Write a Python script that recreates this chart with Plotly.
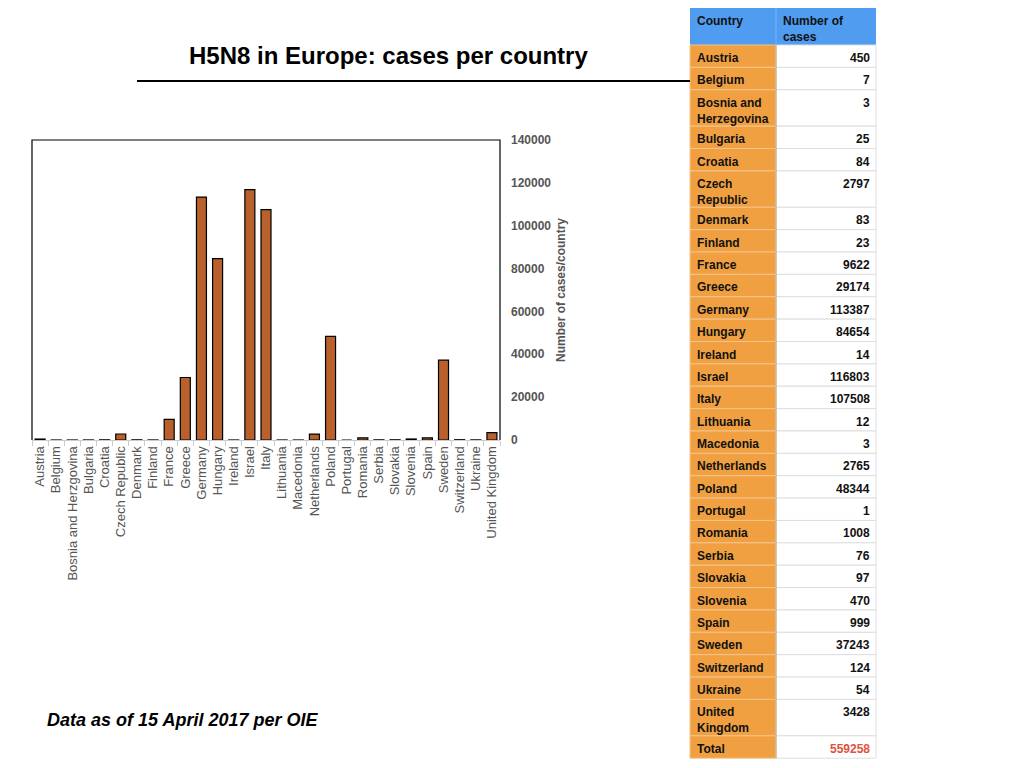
import plotly.graph_objects as go

countries = ["Austria", "Belgium", "Bosnia and Herzegovina", "Bulgaria", "Croatia",
             "Czech Republic", "Denmark", "Finland", "France", "Greece", "Germany",
             "Hungary", "Ireland", "Israel", "Italy", "Lithuania", "Macedonia",
             "Netherlands", "Poland", "Portugal", "Romania", "Serbia", "Slovakia",
             "Slovenia", "Spain", "Sweden", "Switzerland", "Ukraine", "United Kingdom"]
# the chart's axis labels (spelled as on the original chart)
bar_labels = ["Austria", "Belgium", "Bosnia and Herzgovina", "Bulgaria", "Croatia",
              "Czech Republic", "Denmark", "Finland", "France", "Greece", "Germany",
              "Hungary", "Ireland", "Israel", "Italy", "Lithuania", "Macedonia",
              "Netherlands", "Poland", "Portugal", "Romania", "Serbia", "Slovakia",
              "Slovenia", "Spain", "Sweden", "Switzerland", "Ukraine", "United Kingdom"]
cases = [450, 7, 3, 25, 84, 2797, 83, 23, 9622, 29174, 113387, 84654, 14, 116803,
         107508, 12, 3, 2765, 48344, 1, 1008, 76, 97, 470, 999, 37243, 124, 54, 3428]
total = 559258

# names that wrap onto two lines in the table
wrapped = {"Bosnia and Herzegovina": "Bosnia and<br>Herzegovina",
           "Czech Republic": "Czech<br>Republic",
           "United Kingdom": "United<br>Kingdom"}

bar_color = "#b8612c"
orange = "#f0a040"
blue = "#4f9cf0"
grid = "#dedede"

# page body has an 8px margin, so the figure is sized to fit the window
W, H, OFF = 1008, 752, 8


def px(sx):
    return (sx - OFF) / W


def py(sy):
    return 1 - (sy - OFF) / H


fig = go.Figure()

fig.add_trace(go.Bar(
    x=bar_labels, y=cases,
    marker=dict(color=bar_color, line=dict(color="black", width=1.2)),
    width=0.62,
    showlegend=False,
))

# ---- table drawn with shapes + annotations ----
x0, xmid, x1 = 690, 776, 876
head_top, head_bot = 8, 45
single_h, double_h = 22.37, 36.4
font_tbl = dict(family="Liberation Sans", size=12, color="#111")

shapes = []
annos = []
shapes.append(dict(type="rect", xref="paper", yref="paper",
                   x0=px(x0), x1=px(x1), y0=py(head_bot), y1=py(head_top),
                   fillcolor=blue, line=dict(width=0), layer="below"))
shapes.append(dict(type="line", xref="paper", yref="paper",
                   x0=px(xmid), x1=px(xmid), y0=py(head_bot), y1=py(head_top),
                   line=dict(color="#78b4f4", width=1)))
annos.append(dict(text="<b>Country</b>", x=px(x0 + 5), y=py(head_top + 4)))
annos.append(dict(text="<b>Number of<br>cases</b>", x=px(xmid + 5), y=py(head_top + 4)))

rows = [(wrapped.get(c, c), str(v), "#111") for c, v in zip(countries, cases)]
rows.append(("Total", str(total), "#e0523a"))

top = head_bot
for name, val, vcol in rows:
    h = double_h if "<br>" in name else single_h
    bot = top + h
    shapes.append(dict(type="rect", xref="paper", yref="paper",
                       x0=px(x0), x1=px(xmid), y0=py(bot), y1=py(top),
                       fillcolor=orange, line=dict(color="#f4c48c", width=1), layer="below"))
    shapes.append(dict(type="rect", xref="paper", yref="paper",
                       x0=px(xmid), x1=px(x1), y0=py(bot), y1=py(top),
                       fillcolor="white", line=dict(color=grid, width=1), layer="below"))
    annos.append(dict(text="<b>%s</b>" % name, x=px(x0 + 5), y=py(top + 4)))
    annos.append(dict(text="<b>%s</b>" % val, x=px(x1 - 4), y=py(top + 4),
                      xanchor="right", font=dict(family="Liberation Sans", size=12, color=vcol)))
    top = bot

# divider between the two columns
shapes.append(dict(type="line", xref="paper", yref="paper",
                   x0=px(xmid), x1=px(xmid), y0=py(top), y1=py(head_bot),
                   line=dict(color="#c8a070", width=1)))

for a in annos:
    a.setdefault("xanchor", "left")
    a.setdefault("font", font_tbl)
    a.update(xref="paper", yref="paper", yanchor="top", align="left", showarrow=False)
    if a["xanchor"] == "right":
        a["align"] = "right"

# box round the plot area: left, top and right in black
shapes.append(dict(type="path", xref="x domain", yref="y domain",
                   path="M 0 0 L 0 1 L 1 1 L 1 0", line=dict(color="black", width=1.2)))
# title underline
shapes.append(dict(type="line", xref="paper", yref="paper",
                   x0=px(137), x1=px(690), y0=py(81), y1=py(81),
                   line=dict(color="black", width=2)))

annos.append(dict(text="<b>H5N8 in Europe: cases per country</b>",
                  xref="paper", yref="paper", x=px(388), y=py(56),
                  xanchor="center", yanchor="middle", showarrow=False,
                  font=dict(family="Liberation Sans", size=24, color="black")))
annos.append(dict(text="<b><i>Data as of 15 April 2017 per OIE</i></b>",
                  xref="paper", yref="paper", x=px(45), y=py(720),
                  xanchor="left", yanchor="middle", showarrow=False,
                  font=dict(family="Liberation Sans", size=18, color="black")))

fig.update_layout(
    width=W, height=H,
    margin=dict(l=0, r=0, t=0, b=0, autoexpand=False),
    paper_bgcolor="white", plot_bgcolor="white",
    font=dict(family="Liberation Sans", color="#555"),
    shapes=shapes, annotations=annos,
    xaxis=dict(
        domain=[px(32), px(500)],
        tickangle=-90, tickfont=dict(size=13, color="#555"),
        showline=True, linecolor="#cccccc", linewidth=1,
        ticks="outside", tickson="boundaries", tickcolor="#cccccc", ticklen=5,
        showgrid=False, automargin=False,
    ),
    yaxis=dict(
        domain=[py(440), py(140)],
        range=[0, 140000], dtick=20000, side="right",
        showgrid=False, zeroline=False, ticks="",
        tickfont=dict(size=12, color="#555", weight="bold"),
        tickformat="d", ticklabelstandoff=10, automargin=False,
        title=dict(text="<b>Number of cases/country</b>",
                   font=dict(size=12, color="#555"), standoff=6),
    ),
)

fig.write_html("out.html")
